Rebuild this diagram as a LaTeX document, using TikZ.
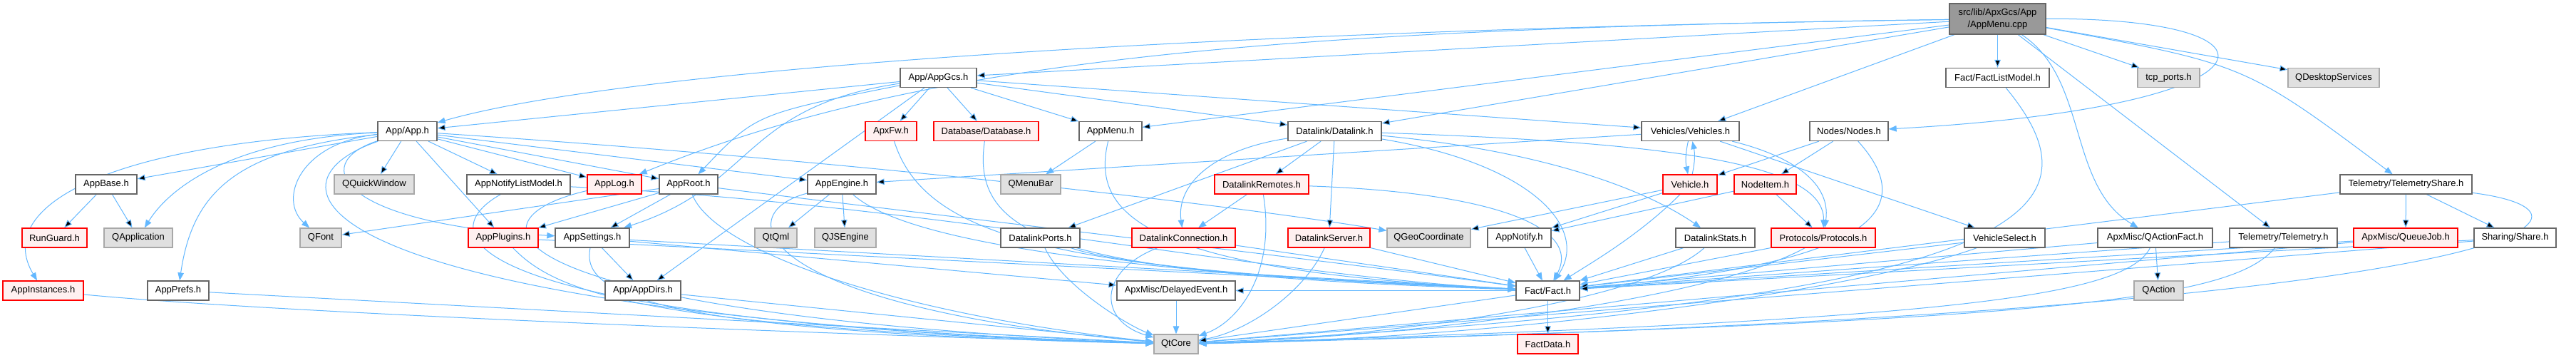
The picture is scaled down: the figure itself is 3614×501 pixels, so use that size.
\documentclass[tikz,border=0pt]{standalone}
\usepackage{fontspec}
\setmainfont{Liberation Sans}
\usetikzlibrary{arrows.meta}
\pgfdeclarelayer{edges}
\pgfsetlayers{edges,main}
\definecolor{edgeblue}{HTML}{63B8FF}
\definecolor{boxgray}{HTML}{666666}
\definecolor{extgray}{HTML}{A8A8A8}
\definecolor{extfill}{HTML}{E0E0E0}
\definecolor{truncred}{HTML}{FF0000}
\definecolor{truncfill}{HTML}{FFF0F0}
\definecolor{rootfill}{HTML}{999999}

\begin{document}
\begin{tikzpicture}[x=1pt,y=-1pt,
  hdr/.style={draw=boxgray,fill=white,line width=1.3pt,minimum height=27pt,inner sep=0pt,font=\fontsize{13}{17}\selectfont},
  trunc/.style={hdr,draw=truncred,fill=truncfill},
  ext/.style={hdr,draw=extgray,fill=extfill},
  dep/.style={draw=edgeblue,line width=1pt,-{Triangle[length=11pt,width=8.5pt]}}]
  \useasboundingbox (0,0) rectangle (3614,501);
  \node[hdr,fill=rootfill,minimum width=135pt,minimum height=43pt,align=center] (root) at (2802.5,26.5) {src/lib/ApxGcs/App\\/AppMenu.cpp};
  \node[hdr,minimum width=107pt] (appgcs) at (1316.5,109) {App/AppGcs.h};
  \node[hdr,minimum width=145pt] (factlist) at (2802.5,109) {Fact/FactListModel.h};
  \node[ext,minimum width=87pt] (tcpports) at (3042.5,109) {tcp\_ports.h};
  \node[ext,minimum width=128pt] (qdesktop) at (3274,109) {QDesktopServices};
  \node[hdr,minimum width=83pt] (app) at (571.5,184) {App/App.h};
  \node[trunc,minimum width=72pt] (apxfw) at (1250,184) {ApxFw.h};
  \node[trunc,minimum width=147pt] (database) at (1383.5,184) {Database/Database.h};
  \node[hdr,minimum width=88pt] (appmenu) at (1558,184) {AppMenu.h};
  \node[hdr,minimum width=131pt] (datalink) at (1872.5,184) {Datalink/Datalink.h};
  \node[hdr,minimum width=137pt] (vehicles) at (2371.5,184) {Vehicles/Vehicles.h};
  \node[hdr,minimum width=110pt] (nodes) at (2594,184) {Nodes/Nodes.h};
  \node[hdr,minimum width=86pt] (appbase) at (149,258.5) {AppBase.h};
  \node[ext,minimum width=112pt] (qquick) at (525,258.5) {QQuickWindow};
  \node[hdr,minimum width=145pt] (notifylist) at (727.5,258.5) {AppNotifyListModel.h};
  \node[trunc,minimum width=76pt] (applog) at (862,258.5) {AppLog.h};
  \node[hdr,minimum width=82pt] (approot) at (966,258.5) {AppRoot.h};
  \node[hdr,minimum width=96pt] (appengine) at (1181,258.5) {AppEngine.h};
  \node[ext,minimum width=84pt] (qmenubar) at (1446,258.5) {QMenuBar};
  \node[trunc,minimum width=132pt] (remotes) at (1770,258.5) {DatalinkRemotes.h};
  \node[trunc,minimum width=76pt] (vehicle) at (2371,258.5) {Vehicle.h};
  \node[trunc,minimum width=87pt] (nodeitem) at (2476.5,258.5) {NodeItem.h};
  \node[hdr,minimum width=185pt] (telshare) at (3375.5,258.5) {Telemetry/TelemetryShare.h};
  \node[trunc,minimum width=91pt] (runguard) at (76.5,333.5) {RunGuard.h};
  \node[ext,minimum width=96pt] (qapp) at (194,333.5) {QApplication};
  \node[ext,minimum width=58pt] (qfont) at (450,333.5) {QFont};
  \node[trunc,minimum width=98pt] (plugins) at (706,333.5) {AppPlugins.h};
  \node[hdr,minimum width=104pt] (appsettings) at (831,333.5) {AppSettings.h};
  \node[ext,minimum width=59pt] (qtqml) at (1088.5,333.5) {QtQml};
  \node[ext,minimum width=86pt] (qjs) at (1186,333.5) {QJSEngine};
  \node[hdr,minimum width=111pt] (ports) at (1459.5,333.5) {DatalinkPorts.h};
  \node[trunc,minimum width=145pt] (connection) at (1660.5,333.5) {DatalinkConnection.h};
  \node[trunc,minimum width=115pt] (server) at (1864.5,333.5) {DatalinkServer.h};
  \node[ext,minimum width=117pt] (qgeo) at (2004.5,333.5) {QGeoCoordinate};
  \node[hdr,minimum width=89pt] (notify) at (2131.5,333.5) {AppNotify.h};
  \node[hdr,minimum width=111pt] (stats) at (2406.5,333.5) {DatalinkStats.h};
  \node[trunc,minimum width=146pt] (protocols) at (2558,333.5) {Protocols/Protocols.h};
  \node[hdr,minimum width=113pt] (vselect) at (2812.5,333.5) {VehicleSelect.h};
  \node[hdr,minimum width=161pt] (qactfact) at (3023.5,333.5) {ApxMisc/QActionFact.h};
  \node[hdr,minimum width=151pt] (telemetry) at (3203.5,333.5) {Telemetry/Telemetry.h};
  \node[trunc,minimum width=146pt] (queuejob) at (3375,333.5) {ApxMisc/QueueJob.h};
  \node[hdr,minimum width=115pt] (share) at (3528.5,333.5) {Sharing/Share.h};
  \node[trunc,minimum width=113pt] (instances) at (60.5,407.5) {AppInstances.h};
  \node[hdr,minimum width=86pt] (prefs) at (250,407.5) {AppPrefs.h};
  \node[hdr,minimum width=106pt] (appdirs) at (902,407.5) {App/AppDirs.h};
  \node[hdr,minimum width=166pt] (delayed) at (1650,407.5) {ApxMisc/DelayedEvent.h};
  \node[hdr,minimum width=89pt] (fact) at (2171.5,407.5) {Fact/Fact.h};
  \node[ext,minimum width=69pt] (qaction) at (3028.5,407.5) {QAction};
  \node[ext,minimum width=62pt] (qtcore) at (1650,482.5) {QtCore};
  \node[trunc,minimum width=85pt] (factdata) at (2171.5,482.5) {FactData.h};
  \begin{pgfonlayer}{edges}
  \fill[white] (0,0) rectangle (3614,501);
  \draw[dep] (root) edge (appgcs) edge (appmenu) edge (datalink) edge (vehicles) edge (factlist) edge (tcpports) edge (qdesktop) edge (telemetry);
  \draw[dep] (root) .. controls (1800,40) and (900,90) .. (app);
  \draw[dep] (root) .. controls (1800,40) and (1300,80) .. (applog);
  \draw[dep] (root) .. controls (3230,25) and (3210,150) .. (nodes);
  \draw[dep] (root) .. controls (2930,110) and (2900,260) .. (qactfact);
  \draw[dep] (root) .. controls (3150,90) .. (telshare);
  \draw[dep] (appgcs) edge (app) edge (apxfw) edge (database) edge (appmenu) edge (datalink) edge (vehicles) edge (appdirs);
  \draw[dep] (appgcs) .. controls (1060,160) .. (approot);
  \draw[dep] (appgcs) .. controls (1040,150) and (1060,260) .. (appsettings);
  \draw[dep] (app) edge (appbase) edge (qquick) edge (notifylist) edge (applog) edge (approot) edge (appengine) edge (plugins);
  \draw[dep] (app) .. controls (330,195) and (240,260) .. (qapp);
  \draw[dep] (app) .. controls (150,200) and (-10,290) .. (instances);
  \draw[dep] (app) .. controls (330,210) and (270,270) .. (prefs);
  \draw[dep] (app) .. controls (420,200) and (390,280) .. (qfont);
  \draw[dep] (app) .. controls (430,230) and (480,315) .. (appsettings);
  \draw[dep] (app) .. controls (350,260) and (430,440) .. (qtcore);
  \draw[dep] (app) .. controls (1200,225) and (1750,290) .. (qgeo);
  \draw[dep] (appbase) edge (runguard) edge (qapp);
  \draw[dep] (instances) .. controls (400,440) and (1200,470) .. (qtcore);
  \draw[dep] (prefs) -- (qtcore);
  \draw[dep] (notifylist) .. controls (600,330) and (640,450) .. (qtcore);
  \draw[dep] (notifylist) .. controls (1300,285) and (1800,390) .. (fact);
  \draw[dep] (applog) .. controls (640,310) and (690,440) .. (qtcore);
  \draw[dep] (approot) edge (plugins) edge (appsettings) edge (qfont);
  \draw[dep] (approot) .. controls (1000,350) and (1250,440) .. (qtcore);
  \draw[dep] (approot) .. controls (1300,300) and (1900,370) .. (fact);
  \draw[dep] (plugins) -- (fact);
  \draw[dep] (plugins) .. controls (780,410) and (900,460) .. (qtcore);
  \draw[dep] (appsettings) edge (appdirs) edge (fact) edge (delayed);
  \draw[dep] (appsettings) .. controls (815,410) and (900,465) .. (qtcore);
  \draw[dep] (appdirs) -- (qtcore);
  \draw[dep] (appengine) edge (qtqml) edge (qjs);
  \draw[dep] (appengine) .. controls (1020,300) and (1060,430) .. (qtcore);
  \draw[dep] (appengine) .. controls (1260,330) and (1500,380) .. (fact);
  \draw[dep] (apxfw) .. controls (1300,340) and (1500,380) .. (fact);
  \draw[dep] (database) .. controls (1360,340) and (1500,385) .. (fact);
  \draw[dep] (appmenu) -- (qmenubar);
  \draw[dep] (appmenu) .. controls (1530,300) and (1600,380) .. (fact);
  \draw[dep] (datalink) edge (remotes) edge (server) edge (ports);
  \draw[dep] (datalink) .. controls (1700,210) and (1650,260) .. (connection);
  \draw[dep] (datalink) .. controls (2150,210) and (2300,260) .. (stats);
  \draw[dep] (datalink) .. controls (2350,200) and (2560,230) .. (protocols);
  \draw[dep] (datalink) .. controls (2150,230) and (2230,320) .. (fact);
  \draw[dep] (remotes) -- (connection);
  \draw[dep] (remotes) .. controls (1790,380) and (1740,450) .. (qtcore);
  \draw[dep] (remotes) .. controls (2100,270) and (2220,320) .. (fact);
  \draw[dep] (ports) .. controls (1600,380) and (1900,395) .. (fact);
  \draw[dep] (ports) .. controls (1490,400) and (1580,455) .. (qtcore);
  \draw[dep] (connection) -- (fact);
  \draw[dep] (connection) .. controls (1540,380) and (1540,450) .. (qtcore);
  \draw[dep] (server) -- (fact);
  \draw[dep] (server) .. controls (1830,410) and (1750,465) .. (qtcore);
  \draw[dep] (delayed) -- (qtcore);
  \draw[dep] (vehicles) edge (vselect) edge (appengine);
  \draw[dep] (vehicles) to[bend right=12] (vehicle);
  \draw[dep] (vehicle) to[bend right=12] (vehicles);
  \draw[dep] (vehicles) .. controls (2500,215) and (2570,250) .. (protocols);
  \draw[dep] (vehicle) edge (qgeo) edge (notify);
  \draw[dep] (vehicle) .. controls (2300,330) and (2230,370) .. (fact);
  \draw[dep] (nodes) edge (vehicle) edge (nodeitem);
  \draw[dep] (nodes) .. controls (2690,290) and (2640,370) .. (fact);
  \draw[dep] (nodeitem) edge (notify) edge (protocols);
  \draw[dep] (notify) -- (fact);
  \draw[dep] (stats) -- (fact);
  \draw[dep] (stats) .. controls (2300,430) and (1900,475) .. (qtcore);
  \draw[dep] (protocols) -- (fact);
  \draw[dep] (protocols) .. controls (2400,420) and (2000,470) .. (qtcore);
  \draw[dep] (vselect) -- (fact);
  \draw[dep] (vselect) .. controls (2600,410) and (2100,475) .. (qtcore);
  \draw[dep] (qactfact) edge (qaction) edge (fact);
  \draw[dep] (qactfact) .. controls (2980,420) and (2700,450) .. (qtcore);
  \draw[dep] (telemetry) -- (fact);
  \draw[dep] (telemetry) .. controls (3130,420) and (2900,450) .. (qtcore);
  \draw[dep] (telshare) edge (queuejob) edge (share) edge (fact);
  \draw[dep] (telshare) .. controls (3700,300) and (3550,440) .. (qtcore);
  \draw[dep] (queuejob) edge (qtcore) edge (fact);
  \draw[dep] (share) edge (fact) edge (qtcore);
  \draw[dep] (factlist) .. controls (2960,300) and (2850,420) .. (qtcore);
  \draw[dep] (fact) edge (factdata) edge (delayed) edge (qtcore);
  \end{pgfonlayer}
\end{tikzpicture}
\end{document}
